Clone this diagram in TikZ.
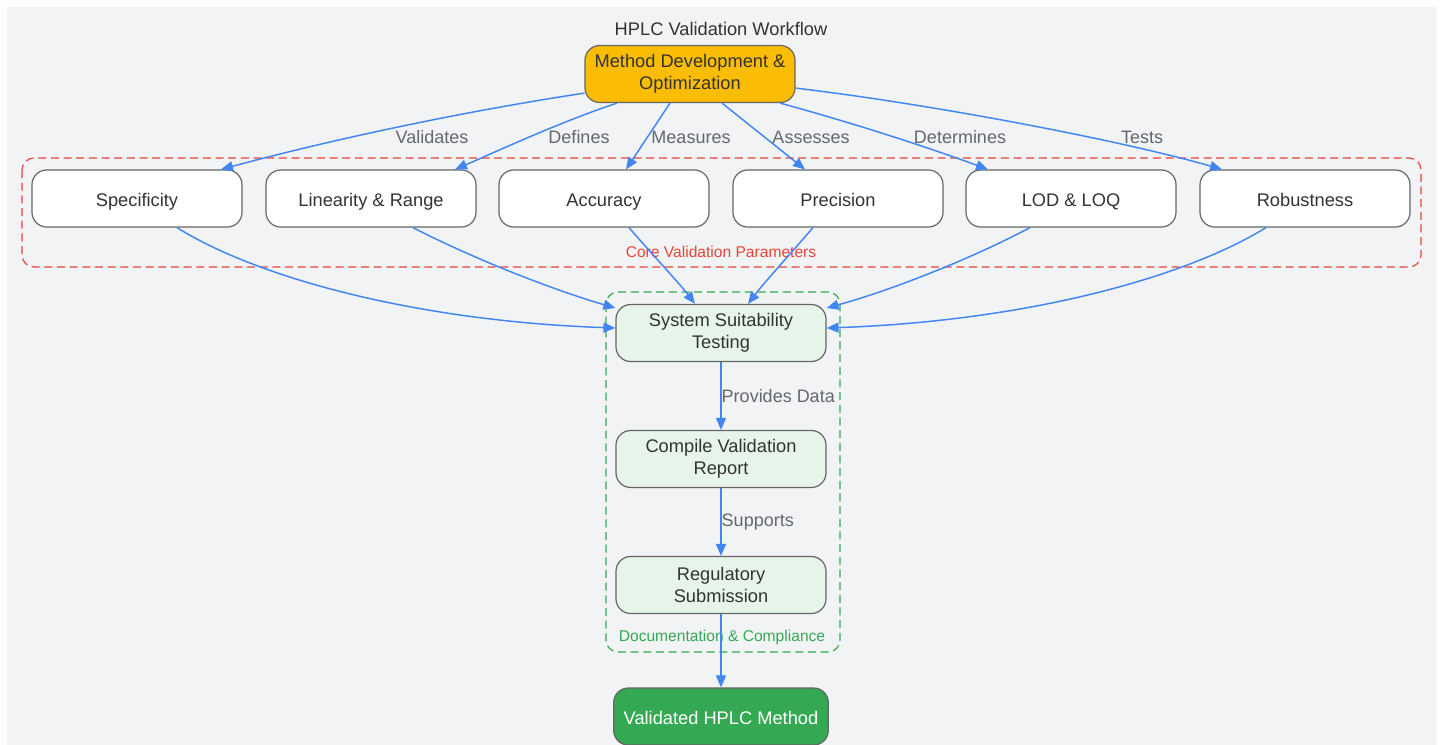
\documentclass[tikz,border=0pt]{standalone}
\usepackage{fontspec}
\setmainfont{Liberation Sans}
\usetikzlibrary{arrows.meta,calc}
\definecolor{bgGray}{RGB}{241,243,245}
\definecolor{boxGray}{RGB}{102,102,102}
\definecolor{txtDark}{RGB}{51,51,51}
\definecolor{lblGray}{RGB}{100,103,108}
\definecolor{flowBlue}{RGB}{66,133,244}
\definecolor{coreRed}{RGB}{234,67,53}
\definecolor{docGreen}{RGB}{52,168,83}
\definecolor{docFill}{RGB}{230,244,234}
\definecolor{devYellow}{RGB}{251,188,4}
\tikzset{every picture/.style={line width=0.75pt}}
\tikzset{
  param/.style={draw=boxGray, fill=white, rounded corners=11pt, line width=0.9pt,
    minimum width=157.5pt, minimum height=42.75pt, align=center, text=txtDark,
    font=\fontsize{13.7}{16.5}\selectfont},
  oneline/.style={text height=14pt, text depth=2.6pt},
  devbox/.style={param, fill=devYellow},
  docbox/.style={param, fill=docFill},
  finalbox/.style={param, oneline, fill=docGreen, text=white, minimum width=161pt},
  flow/.style={draw=flowBlue, line width=1.1pt, -{Triangle[length=9pt,width=7.5pt]}},
  lbl/.style={text=lblGray, inner sep=0pt, font=\fontsize{13.5}{16}\selectfont},
  coreframe/.style={draw=coreRed, dash pattern=on 6pt off 3.5pt, line width=0.9pt, rounded corners=9pt},
  docframe/.style={draw=docGreen, dash pattern=on 6pt off 3.5pt, line width=0.9pt, rounded corners=9pt}
}

\begin{document}
\begin{tikzpicture}[x=0.75pt,y=0.75pt,yscale=-1,xscale=1]
\useasboundingbox (0,0) rectangle (1445,744);

%Background
\fill[bgGray] (7,7) rectangle (1437,760);

%Group frames
\draw[coreframe] (22,158) rectangle (1421,267);
\draw[docframe] (606,292) rectangle (840,652);

% Title
\node[text=txtDark, font=\fontsize{13.7}{16}\selectfont] (title) at (721,29) {HPLC Validation Workflow};

% Nodes
\node[devbox] (method) at (690,74) {Method Development \&\\Optimization};
\node[param, oneline] (spec) at (137,198.5) {Specificity};
\node[param, oneline] (lin) at (371,198.5) {Linearity \& Range};
\node[param, oneline] (acc) at (604,198.5) {Accuracy};
\node[param, oneline] (prec) at (838,198.5) {Precision};
\node[param, oneline] (lod) at (1071,198.5) {LOD \& LOQ};
\node[param, oneline] (rob) at (1305,198.5) {Robustness};
\node[docbox] (sst) at (721,333) {System Suitability\\Testing};
\node[docbox] (comp) at (721,459) {Compile Validation\\Report};
\node[docbox] (reg) at (721,585) {Regulatory\\Submission};
\node[finalbox] (valid) at (721,716.5) {Validated HPLC Method};

% Group labels
\node[text=coreRed, inner sep=0pt, font=\fontsize{11.7}{14}\selectfont] (coreLbl) at (721,252) {Core Validation Parameters};
\node[text=docGreen, inner sep=0pt, font=\fontsize{11.7}{14}\selectfont] (docLbl) at (722,637) {Documentation \& Compliance};

% Method to parameters
\draw[flow] ($(method.south west)+(0,-10)$) .. controls (460,112) and (330,140) .. ($(spec.north)+(84,0)$);
\draw[flow] ($(method.south)+(-73,0)$) .. controls (560,122) and (500,150) .. ($(lin.north)+(84,0)$);
\draw[flow] ($(method.south)+(-20,0)$) -- ($(acc.north)+(22,0)$);
\draw[flow] ($(method.south)+(32,0)$) -- ($(prec.north)+(-33,0)$);
\draw[flow] ($(method.south)+(90,0)$) .. controls (850,122) and (930,148) .. ($(lod.north)+(-83,0)$);
\draw[flow] ($(method.south east)+(0,-15)$) .. controls (930,104) and (1120,140) .. ($(rob.north)+(-83,0)$);

% Edge labels
\node[lbl] (lValidates) at (432,137) {Validates};
\node[lbl] (lDefines) at (579,137) {Defines};
\node[lbl] (lMeasures) at (691,137) {Measures};
\node[lbl] (lAssesses) at (811,137) {Assesses};
\node[lbl] (lDetermines) at (960,137) {Determines};
\node[lbl] (lTests) at (1142,137) {Tests};

% Parameters to system suitability
\draw[flow] ($(spec.south)+(40,0)$) .. controls ($(spec.south)+(120,50)$) and ($(sst.west)+(-200,-12)$) .. ($(sst.west)+(0,-5)$);
\draw[flow] ($(lin.south)+(42,0)$) .. controls (480,262) and (560,292) .. ($(sst.west)+(0,-25)$);
\draw[flow] ($(acc.south)+(25,0)$) .. controls (650,252) and (680,284) .. ($(sst.north)+(-26,0)$);
\draw[flow] ($(prec.south)+(-25,0)$) .. controls (792,252) and (763,284) .. ($(sst.north)+(27,0)$);
\draw[flow] ($(lod.south)+(-41,0)$) .. controls (965,262) and (885,292) .. ($(sst.east)+(0,-25)$);
\draw[flow] ($(rob.south)+(-39,0)$) .. controls ($(rob.south)+(-120,50)$) and ($(sst.east)+(200,-12)$) .. ($(sst.east)+(0,-5)$);

% Documentation chain
\draw[flow] (sst) -- node[lbl, anchor=west] (lProvides) {Provides Data} (comp);
\draw[flow] (comp) -- node[lbl, anchor=west] (lSupports) {Supports} (reg);
\draw[flow] (reg) -- (valid);

\end{tikzpicture}
\end{document}
